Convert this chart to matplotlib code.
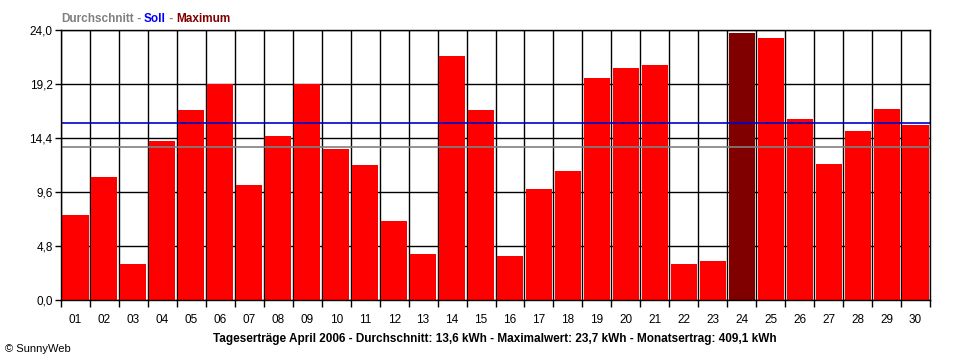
import numpy as np
import matplotlib.pyplot as plt

plt.rcParams['font.family'] = ['Liberation Sans', 'DejaVu Sans']

days = ['01', '02', '03', '04', '05', '06', '07', '08', '09', '10',
        '11', '12', '13', '14', '15', '16', '17', '18', '19', '20',
        '21', '22', '23', '24', '25', '26', '27', '28', '29', '30']
ertrag = [7.6, 10.9, 3.2, 14.1, 16.9, 19.2, 10.2, 14.6, 19.2, 13.4,
          12.0, 7.0, 4.1, 21.7, 16.9, 3.9, 9.9, 11.5, 19.7, 20.6,
          20.9, 3.2, 3.5, 23.7, 23.3, 16.1, 12.1, 15.0, 17.0, 15.6]
durchschnitt = 13.6
soll = 15.7
y_ticks = [0.0, 4.8, 9.6, 14.4, 19.2, 24.0]

x = np.arange(len(days))
max_idx = int(np.argmax(ertrag))
colors = ['#FF0000'] * len(days)
colors[max_idx] = '#800000'

fig = plt.figure(figsize=(9.6, 3.6), dpi=100)
ax = fig.add_axes([61 / 960, 60 / 360, 869 / 960, 270 / 360])

ax.bar(x, ertrag, width=0.9, color=colors, zorder=2)
ax.axhline(soll, color='#0000CC', lw=1.2, zorder=3)
ax.axhline(durchschnitt, color='#808080', lw=1.2, zorder=3)

ax.set_xlim(-0.5, len(days) - 0.5)
ax.set_ylim(0, 24)

ax.set_xticks(x)
ax.set_xticklabels(days)
ax.set_xticks(np.arange(len(days) + 1) - 0.5, minor=True)
ax.tick_params(axis='x', which='major', length=0, pad=10, labelsize=8.5)
ax.tick_params(axis='x', which='minor', length=5, width=1, color='black')
ax.grid(axis='x', which='minor', color='black', lw=1, zorder=1)

ax.set_yticks(y_ticks)
ax.set_yticklabels([f'{v:.1f}'.replace('.', ',') for v in y_ticks])
ax.tick_params(axis='y', length=4, width=1, pad=2, labelsize=8.5)
ax.grid(axis='y', which='major', color='black', lw=1, zorder=1)
ax.set_axisbelow(True)

for s in ax.spines.values():
    s.set_color('black')
    s.set_linewidth(1)
    s.set_zorder(4)

# legend-like title
t = fig.text(61 / 960, 1 - 22 / 360, 'Durchschnitt', color='#808080',
             fontsize=8.5, fontweight='bold')
t = fig.text(0, 0, ' - ', color='#808080', fontsize=8.5, fontweight='bold')
parts = [(' - ', '#808080'), ('Soll', '#0000FF'), (' - ', '#808080'), ('Maximum', '#800000')]
prev = fig.texts[0]
t.remove()
for txt, col in parts:
    prev = ax.annotate(txt, xy=(1, 0), xycoords=prev, va='bottom', ha='left',
                       color=col, fontsize=8.5, fontweight='bold',
                       annotation_clip=False)

fig.text(495 / 960, 1 - 342 / 360,
         'Tageserträge April 2006 - Durchschnitt: 13,6 kWh - Maximalwert: 23,7 kWh - Monatsertrag: 409,1 kWh',
         ha='center', fontsize=8.5, fontweight='bold')
fig.text(5 / 960, 1 - 352 / 360, '© SunnyWeb', fontsize=8)

plt.savefig('out.png', dpi=100)
